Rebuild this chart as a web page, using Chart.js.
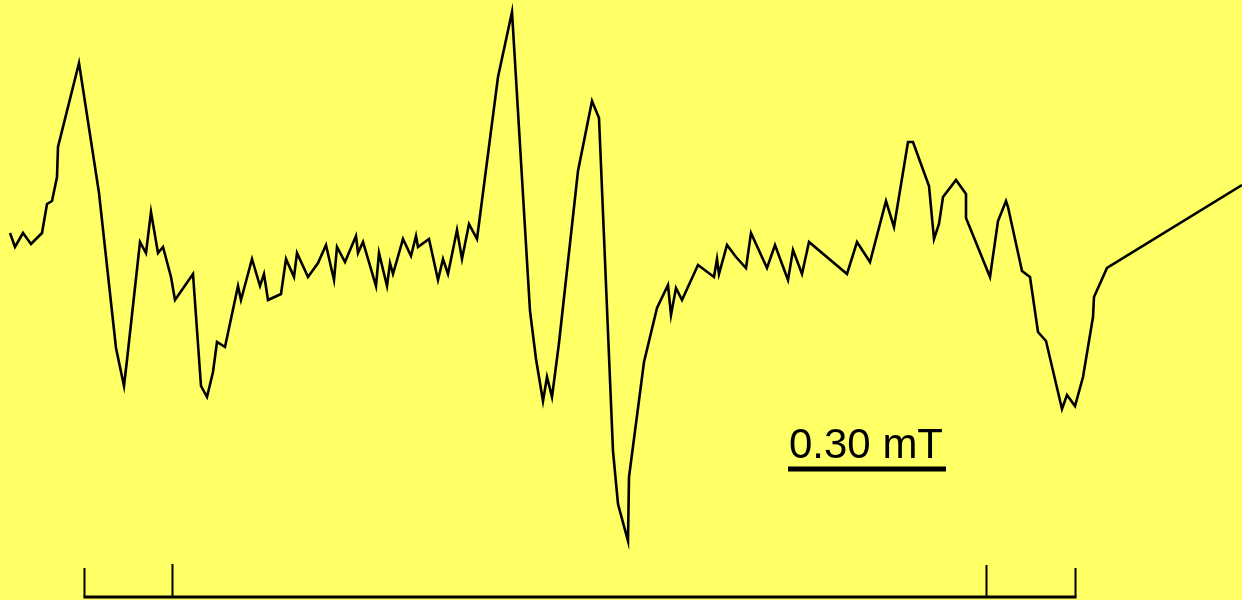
<!DOCTYPE html>
<html>
<head>
<meta charset="utf-8">
<script src="https://cdn.jsdelivr.net/npm/chart.js@4/dist/chart.umd.min.js"></script>
<style>
  html, body { margin: 0; padding: 0; background: #ffff66; }
  #wrap { width: 1242px; height: 600px; }
</style>
</head>
<body>
<div id="wrap"><canvas id="canvas"></canvas></div>
<script>
// field position (channel) and derivative intensity (arb. units)
var field = [10, 15, 23, 31, 42, 47, 52, 57, 58, 79, 99, 116, 124, 127, 140, 146, 151, 158, 163, 171,
  175, 193, 201, 207, 213, 217, 225, 238, 241, 252, 260, 264, 268, 281, 286, 294, 297, 308, 318, 326,
  334, 337, 345, 356, 358, 363, 376, 379, 387, 390, 393, 403, 411, 416, 418, 429, 438, 443, 448, 457,
  462, 469, 477, 498, 512, 530, 536, 543, 547, 552, 559, 578, 592, 599, 613, 618, 628, 629, 644, 657,
  668, 671, 676, 682, 698, 714, 717, 719, 727, 736, 746, 751, 767, 775, 788, 793, 802, 809, 847, 857,
  870, 886, 894, 908, 913, 929, 934, 939, 943, 956, 966, 966, 990, 998, 1006, 1008, 1022, 1030, 1038, 1046,
  1062, 1067, 1075, 1083, 1093, 1094, 1107, 1242];
var intensity = [67, 53, 67, 56, 67, 96, 99, 123, 153, 237, 107, -48, -86, -60, 58, 47, 88, 47, 53, 23,
  0, 26, -86, -97, -72, -42, -47, 14, 0, 41, 14, 26, 0, 6, 41, 23, 47, 23, 37, 55,
  20, 53, 38, 64, 47, 58, 14, 47, 14, 37, 26, 61, 44, 64, 53, 61, 20, 41, 26, 70,
  41, 76, 61, 223, 288, -11, -59, -101, -77, -97, -43, 129, 199, 182, -151, -204, -241, -177, -62, -8,
  15, -15, 12, 0, 35, 23, 41, 26, 55, 43, 32, 67, 32, 55, 20, 50, 26, 58, 26, 58,
  38, 99, 73, 158, 158, 114, 61, 76, 103, 120, 106, 82, 23, 79, 99, 93, 29, 23, -32, -41,
  -109, -95, -106, -77, -17, 3, 32, 115];

// stick diagram of the hyperfine lines
var stickPos = [84, 172, 986, 1075];
var stickTop = [-268, -264, -265, -268];
var stickBase = -297;

// scale bar: 0.30 mT
var barStart = 788, barEnd = 946, barLevel = -169;
var barLabel = '0.30 mT';

var points = field.map(function(x, i) { return { x: x, y: intensity[i] }; });

var extras = {
  id: 'extras',
  beforeDraw: function(chart) {
    var c = chart.ctx;
    c.save();
    c.fillStyle = '#ffff66';
    c.fillRect(0, 0, chart.width, chart.height);
    c.restore();
  },
  afterDraw: function(chart) {
    var c = chart.ctx, xs = chart.scales.x, ys = chart.scales.y;
    c.save();
    c.strokeStyle = '#000';
    c.lineCap = 'butt';
    // sticks
    c.lineWidth = 2;
    var yb = ys.getPixelForValue(stickBase);
    stickPos.forEach(function(p, i) {
      var px = Math.round(xs.getPixelForValue(p)) + 0.5;
      c.beginPath();
      c.moveTo(px, ys.getPixelForValue(stickTop[i]));
      c.lineTo(px, yb);
      c.stroke();
    });
    c.lineWidth = 3;
    c.beginPath();
    c.moveTo(xs.getPixelForValue(stickPos[0]) - 0.5, yb);
    c.lineTo(xs.getPixelForValue(stickPos[stickPos.length - 1]) + 1.5, yb);
    c.stroke();
    // scale bar
    var by = ys.getPixelForValue(barLevel);
    c.lineWidth = 5;
    c.beginPath();
    c.moveTo(xs.getPixelForValue(barStart), by);
    c.lineTo(xs.getPixelForValue(barEnd), by);
    c.stroke();
    c.fillStyle = '#000';
    c.font = '42px "Liberation Sans", Arial, sans-serif';
    c.textAlign = 'center';
    c.textBaseline = 'alphabetic';
    c.fillText(barLabel, (xs.getPixelForValue(barStart) + xs.getPixelForValue(barEnd)) / 2 - 1, by - 11);
    c.restore();
  }
};

new Chart(document.getElementById('canvas'), {
  type: 'line',
  data: {
    datasets: [{
      data: points,
      borderColor: '#000',
      borderWidth: 2.6,
      pointRadius: 0,
      tension: 0,
      fill: false
    }]
  },
  options: {
    responsive: true,
    maintainAspectRatio: false,
    animation: false,
    layout: { padding: 0 },
    plugins: { legend: { display: false }, tooltip: { enabled: false } },
    scales: {
      x: { type: 'linear', min: 0, max: 1242, display: false },
      y: { type: 'linear', min: -300, max: 300, display: false }
    }
  },
  plugins: [extras]
});
</script>
</body>
</html>
